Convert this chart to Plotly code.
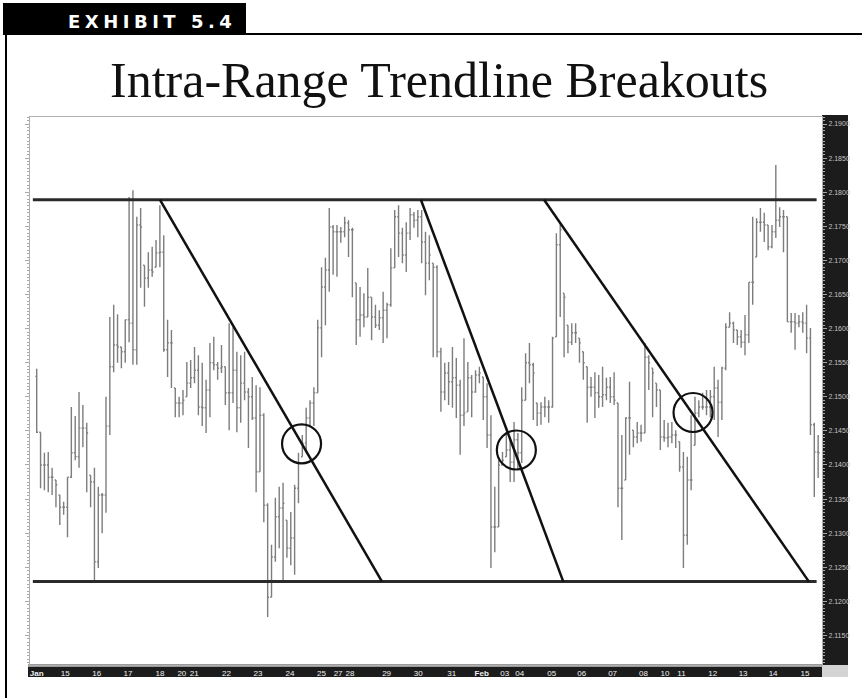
import plotly.graph_objects as go

# ---------------- data ----------------
highs = [2.1541, 2.1448, 2.1418, 2.1419, 2.1396, 2.1378, 2.1356, 2.1346, 2.1382, 2.1485,
         2.1472, 2.1507, 2.1488, 2.1462, 2.1385, 2.1396, 2.1368, 2.1359, 2.1500, 2.1617,
         2.1635, 2.1621, 2.1573, 2.1613, 2.1793, 2.1803, 2.1764, 2.1777, 2.1693, 2.1712,
         2.1720, 2.1730, 2.1781, 2.1737, 2.1613, 2.1598, 2.1513, 2.1500, 2.1510, 2.1551,
         2.1554, 2.1573, 2.1561, 2.1550, 2.1525, 2.1579, 2.1588, 2.1551, 2.1576, 2.1544,
         2.1608, 2.1602, 2.1566, 2.1561, 2.1566, 2.1513, 2.1529, 2.1517, 2.1514, 2.1476,
         2.1344, 2.1283, 2.1352, 2.1368, 2.1374, 2.1319, 2.1331, 2.1371, 2.1418, 2.1444,
         2.1484, 2.1495, 2.1514, 2.1613, 2.1690, 2.1704, 2.1777, 2.1752, 2.1752, 2.1749,
         2.1764, 2.1759, 2.1748, 2.1667, 2.1661, 2.1652, 2.1689, 2.1646, 2.1635, 2.1627,
         2.1654, 2.1638, 2.1718, 2.1774, 2.1781, 2.1748, 2.1756, 2.1777, 2.1771, 2.1774,
         2.1774, 2.1742, 2.1737, 2.1696, 2.1693, 2.1572, 2.1550, 2.1551, 2.1573, 2.1557,
         2.1525, 2.1586, 2.1551, 2.1532, 2.1539, 2.1544, 2.1529, 2.1520, 2.1473, 2.1368,
         2.1407, 2.1419, 2.1447, 2.1441, 2.1463, 2.1447, 2.1514, 2.1564, 2.1579, 2.1550,
         2.1491, 2.1492, 2.1500, 2.1495, 2.1588, 2.1740, 2.1755, 2.1652, 2.1605, 2.1608,
         2.1608, 2.1586, 2.1566, 2.1544, 2.1529, 2.1536, 2.1532, 2.1544, 2.1528, 2.1529,
         2.1536, 2.1491, 2.1444, 2.1470, 2.1522, 2.1451, 2.1463, 2.1459, 2.1579, 2.1561,
         2.1542, 2.1520, 2.1510, 2.1466, 2.1462, 2.1463, 2.1451, 2.1434, 2.1419, 2.1412,
         2.1473, 2.1500, 2.1495, 2.1506, 2.1510, 2.1510, 2.1544, 2.1525, 2.1544, 2.1608,
         2.1624, 2.1610, 2.1598, 2.1598, 2.1620, 2.1668, 2.1764, 2.1762, 2.1777, 2.1770,
         2.1752, 2.1752, 2.1840, 2.1778, 2.1774, 2.1764, 2.1623, 2.1623, 2.1620, 2.1624,
         2.1635, 2.1601, 2.1462, 2.1444]

lows = [2.1447, 2.1366, 2.1363, 2.1360, 2.1356, 2.1338, 2.1312, 2.1327, 2.1294, 2.1381,
        2.1407, 2.1396, 2.1426, 2.1360, 2.1338, 2.1228, 2.1249, 2.1300, 2.1330, 2.1444,
        2.1536, 2.1550, 2.1542, 2.1550, 2.1580, 2.1547, 2.1547, 2.1660, 2.1632, 2.1660,
        2.1676, 2.1690, 2.1690, 2.1566, 2.1529, 2.1513, 2.1470, 2.1470, 2.1473, 2.1500,
        2.1513, 2.1520, 2.1473, 2.1457, 2.1447, 2.1470, 2.1539, 2.1525, 2.1535, 2.1488,
        2.1451, 2.1491, 2.1448, 2.1462, 2.1495, 2.1425, 2.1466, 2.1360, 2.1390, 2.1316,
        2.1177, 2.1206, 2.1258, 2.1278, 2.1228, 2.1264, 2.1253, 2.1239, 2.1344, 2.1412,
        2.1418, 2.1457, 2.1457, 2.1506, 2.1558, 2.1605, 2.1654, 2.1679, 2.1676, 2.1726,
        2.1734, 2.1705, 2.1646, 2.1576, 2.1588, 2.1602, 2.1617, 2.1583, 2.1601, 2.1598,
        2.1579, 2.1586, 2.1632, 2.1689, 2.1705, 2.1696, 2.1683, 2.1730, 2.1748, 2.1734,
        2.1696, 2.1649, 2.1671, 2.1558, 2.1558, 2.1478, 2.1495, 2.1488, 2.1484, 2.1469,
        2.1415, 2.1457, 2.1478, 2.1470, 2.1506, 2.1520, 2.1466, 2.1425, 2.1249, 2.1272,
        2.1309, 2.1400, 2.1412, 2.1375, 2.1375, 2.1393, 2.1403, 2.1495, 2.1520, 2.1466,
        2.1457, 2.1459, 2.1470, 2.1462, 2.1484, 2.1588, 2.1617, 2.1558, 2.1564, 2.1576,
        2.1579, 2.1550, 2.1525, 2.1462, 2.1500, 2.1469, 2.1484, 2.1485, 2.1495, 2.1491,
        2.1488, 2.1338, 2.1290, 2.1378, 2.1415, 2.1426, 2.1432, 2.1434, 2.1447, 2.1510,
        2.1470, 2.1485, 2.1422, 2.1434, 2.1426, 2.1432, 2.1425, 2.1390, 2.1249, 2.1283,
        2.1363, 2.1429, 2.1470, 2.1481, 2.1473, 2.1470, 2.1466, 2.1441, 2.1466, 2.1539,
        2.1602, 2.1579, 2.1576, 2.1572, 2.1561, 2.1579, 2.1635, 2.1705, 2.1742, 2.1727,
        2.1715, 2.1718, 2.1733, 2.1749, 2.1712, 2.1610, 2.1594, 2.1569, 2.1602, 2.1594,
        2.1564, 2.1444, 2.1353, 2.1381]

closes = [2.1448, 2.1400, 2.1400, 2.1382, 2.1382, 2.1371, 2.1338, 2.1338, 2.1382, 2.1418,
          2.1412, 2.1454, 2.1454, 2.1447, 2.1375, 2.1258, 2.1356, 2.1356, 2.1457, 2.1544,
          2.1576, 2.1573, 2.1566, 2.1613, 2.1608, 2.1569, 2.1752, 2.1749, 2.1674, 2.1686,
          2.1683, 2.1711, 2.1712, 2.1569, 2.1579, 2.1579, 2.1491, 2.1491, 2.1495, 2.1520,
          2.1528, 2.1539, 2.1485, 2.1484, 2.1510, 2.1550, 2.1547, 2.1542, 2.1544, 2.1506,
          2.1506, 2.1539, 2.1484, 2.1520, 2.1507, 2.1500, 2.1469, 2.1390, 2.1473, 2.1341,
          2.1206, 2.1265, 2.1324, 2.1337, 2.1344, 2.1278, 2.1293, 2.1366, 2.1403, 2.1432,
          2.1469, 2.1491, 2.1506, 2.1601, 2.1661, 2.1686, 2.1749, 2.1742, 2.1742, 2.1742,
          2.1755, 2.1745, 2.1745, 2.1613, 2.1620, 2.1617, 2.1646, 2.1617, 2.1605, 2.1616,
          2.1627, 2.1635, 2.1689, 2.1764, 2.1740, 2.1708, 2.1740, 2.1767, 2.1759, 2.1764,
          2.1727, 2.1696, 2.1708, 2.1690, 2.1566, 2.1507, 2.1535, 2.1522, 2.1528, 2.1517,
          2.1473, 2.1476, 2.1528, 2.1507, 2.1532, 2.1535, 2.1500, 2.1444, 2.1309, 2.1309,
          2.1400, 2.1407, 2.1422, 2.1404, 2.1437, 2.1418, 2.1495, 2.1550, 2.1547, 2.1535,
          2.1476, 2.1485, 2.1485, 2.1485, 2.1586, 2.1723, 2.1745, 2.1646, 2.1580, 2.1594,
          2.1594, 2.1579, 2.1550, 2.1514, 2.1514, 2.1506, 2.1500, 2.1503, 2.1514, 2.1500,
          2.1495, 2.1366, 2.1366, 2.1469, 2.1469, 2.1441, 2.1447, 2.1447, 2.1558, 2.1550,
          2.1535, 2.1510, 2.1441, 2.1440, 2.1441, 2.1444, 2.1444, 2.1397, 2.1297, 2.1378,
          2.1378, 2.1476, 2.1485, 2.1485, 2.1485, 2.1500, 2.1513, 2.1492, 2.1542, 2.1602,
          2.1608, 2.1598, 2.1588, 2.1580, 2.1591, 2.1668, 2.1668, 2.1756, 2.1756, 2.1752,
          2.1720, 2.1742, 2.1759, 2.1764, 2.1764, 2.1610, 2.1610, 2.1608, 2.1610, 2.1608,
          2.1586, 2.1459, 2.1419, 2.1418]

opens = [2.1530, 2.1448, 2.1400, 2.1400, 2.1382, 2.1378, 2.1356, 2.1338, 2.1338, 2.1382,
         2.1418, 2.1412, 2.1454, 2.1454, 2.1385, 2.1375, 2.1258, 2.1356, 2.1356, 2.1457,
         2.1544, 2.1576, 2.1573, 2.1566, 2.1613, 2.1608, 2.1569, 2.1752, 2.1693, 2.1674,
         2.1686, 2.1690, 2.1711, 2.1712, 2.1569, 2.1579, 2.1513, 2.1491, 2.1491, 2.1500,
         2.1520, 2.1528, 2.1539, 2.1485, 2.1484, 2.1510, 2.1550, 2.1547, 2.1542, 2.1544,
         2.1506, 2.1506, 2.1539, 2.1484, 2.1520, 2.1507, 2.1500, 2.1469, 2.1390, 2.1473,
         2.1341, 2.1206, 2.1265, 2.1324, 2.1337, 2.1319, 2.1278, 2.1293, 2.1366, 2.1412,
         2.1432, 2.1469, 2.1491, 2.1506, 2.1601, 2.1661, 2.1686, 2.1749, 2.1742, 2.1742,
         2.1742, 2.1755, 2.1745, 2.1667, 2.1613, 2.1620, 2.1617, 2.1646, 2.1617, 2.1605,
         2.1616, 2.1627, 2.1635, 2.1689, 2.1764, 2.1740, 2.1708, 2.1740, 2.1767, 2.1759,
         2.1764, 2.1727, 2.1696, 2.1696, 2.1690, 2.1566, 2.1507, 2.1535, 2.1522, 2.1528,
         2.1517, 2.1473, 2.1478, 2.1528, 2.1507, 2.1532, 2.1529, 2.1500, 2.1444, 2.1309,
         2.1309, 2.1400, 2.1412, 2.1422, 2.1404, 2.1437, 2.1418, 2.1495, 2.1550, 2.1547,
         2.1491, 2.1476, 2.1485, 2.1485, 2.1485, 2.1588, 2.1723, 2.1652, 2.1605, 2.1580,
         2.1594, 2.1586, 2.1566, 2.1544, 2.1514, 2.1514, 2.1506, 2.1500, 2.1503, 2.1514,
         2.1500, 2.1491, 2.1366, 2.1378, 2.1469, 2.1451, 2.1441, 2.1447, 2.1447, 2.1558,
         2.1542, 2.1520, 2.1510, 2.1441, 2.1440, 2.1441, 2.1444, 2.1434, 2.1397, 2.1297,
         2.1378, 2.1429, 2.1476, 2.1485, 2.1485, 2.1485, 2.1500, 2.1513, 2.1492, 2.1542,
         2.1602, 2.1608, 2.1598, 2.1588, 2.1580, 2.1591, 2.1668, 2.1705, 2.1756, 2.1756,
         2.1752, 2.1720, 2.1742, 2.1759, 2.1764, 2.1764, 2.1610, 2.1610, 2.1608, 2.1610,
         2.1608, 2.1586, 2.1459, 2.1419]

bar_index = list(range(len(closes)))   # hourly bars, in sequence

# date labels on the time axis (bar position, label)
date_tick_pos = [0, 7.4, 15.6, 23.7, 32.0, 37.7, 40.9, 49.3, 57.5, 65.8, 74.0, 78.3, 81.4,
                 90.9, 99.1, 107.8, 115.6, 121.6, 125.5, 133.8, 141.6, 149.6, 157.6, 163.2,
                 167.5, 175.6, 183.5, 191.3, 199.6]
date_tick_labels = ["<b>Jan</b>", "15", "16", "17", "18", "20", "21", "22", "23", "24", "25",
                    "27", "28", "29", "30", "31", "<b>Feb</b>", "03", "04", "05", "06", "07",
                    "08", "10", "11", "12", "13", "14", "15"]

# range boundaries
resistance_level = 2.1789
support_level = 2.1229
range_span = [-1.0, 202.6]

# downward trendlines: start bar (at resistance) and end bar (at support)
trend_start_bar = [32.0, 99.8, 131.8]
trend_end_bar = [89.7, 136.8, 200.6]

# breakout points (circled)
breakout_bar = [68.8, 124.6, 170.5]
breakout_price = [2.1431, 2.1422, 2.1477]

# ---------------- layout helpers (pixel -> paper) ----------------
W, H = 867, 698
ML, MR, MT, MB = 30, 45, 117, 33
PW, PH = W - ML - MR, H - MT - MB


def px(x):
    return (x - ML) / PW


def py(y):
    return (H - MB - y) / PH


fig = go.Figure()

fig.add_trace(go.Ohlc(
    x=bar_index, open=opens, high=highs, low=lows, close=closes,
    increasing=dict(line=dict(color="#7d7d7d", width=1.4)),
    decreasing=dict(line=dict(color="#7d7d7d", width=1.4)),
    tickwidth=0.35, hoverinfo="skip", showlegend=False,
))

for lvl in (resistance_level, support_level):
    fig.add_trace(go.Scatter(
        x=range_span, y=[lvl, lvl], mode="lines",
        line=dict(color="#2a2a2a", width=3), hoverinfo="skip", showlegend=False))

for xs, xe in zip(trend_start_bar, trend_end_bar):
    fig.add_trace(go.Scatter(
        x=[xs, xe], y=[resistance_level, support_level], mode="lines",
        line=dict(color="#111111", width=2.5), hoverinfo="skip", showlegend=False))

fig.add_trace(go.Scatter(
    x=breakout_bar, y=breakout_price, mode="markers",
    marker=dict(symbol="circle-open", size=39, color="#111111",
                line=dict(color="#111111", width=2.2)),
    hoverinfo="skip", showlegend=False))

shapes = [
    # dark price-scale strip on the right
    dict(type="rect", xref="paper", yref="paper", x0=px(822), x1=px(848), y0=py(665), y1=py(115),
         fillcolor="#1c1c1c", line=dict(width=0), layer="below"),
    # dark date band at the bottom
    dict(type="rect", xref="paper", yref="paper", x0=px(28), x1=px(822), y0=py(677), y1=py(667),
         fillcolor="#1c1c1c", line=dict(width=0), layer="below"),
    dict(type="rect", xref="paper", yref="paper", x0=px(28), x1=px(822), y0=py(667), y1=py(664),
         fillcolor="#9a9a9a", line=dict(width=0), layer="below"),
    # corner box
    dict(type="rect", xref="paper", yref="paper", x0=px(822), x1=px(848), y0=py(677), y1=py(665),
         fillcolor="#d4d4d4", line=dict(width=0), layer="below"),
    # exhibit tab
    dict(type="rect", xref="paper", yref="paper", x0=px(3), x1=px(246), y0=py(35), y1=py(3),
         fillcolor="#000000", line=dict(width=0)),
    # frame lines
    dict(type="line", xref="paper", yref="paper", x0=px(246), x1=px(862), y0=py(34), y1=py(34),
         line=dict(color="#000000", width=2)),
    dict(type="line", xref="paper", yref="paper", x0=px(6), x1=px(6), y0=py(34), y1=py(698),
         line=dict(color="#000000", width=2)),
]

annotations = [
    dict(text='<span style="letter-spacing:4.5px">EXHIBIT 5.4</span>', xref="paper", yref="paper",
         x=px(152), y=py(21.5), xanchor="center", yanchor="middle", showarrow=False,
         font=dict(family="DejaVu Sans", size=18, color="#ffffff", weight="bold")),
    dict(text="Intra-Range Trendline Breakouts", xref="paper", yref="paper",
         x=px(439), y=py(80), xanchor="center", yanchor="middle", showarrow=False,
         font=dict(family="Liberation Serif", size=50, color="#111111")),
]

fig.update_layout(
    width=W, height=H,
    margin=dict(l=ML, r=MR, t=MT, b=MB, pad=0),
    paper_bgcolor="#ffffff", plot_bgcolor="#ffffff",
    showlegend=False, hovermode=False,
    shapes=shapes, annotations=annotations,
    xaxis=dict(
        range=[-1.74, 204.0], rangeslider=dict(visible=False),
        tickmode="array", tickvals=date_tick_pos, ticktext=date_tick_labels,
        tickfont=dict(family="Liberation Sans", size=8, color="#f0f0f0"),
        ticks="", ticklen=0, showgrid=False, zeroline=False,
        showline=True, linecolor="#b0b0b0", linewidth=1, mirror=True,
    ),
    yaxis=dict(
        side="right", range=[2.11067, 2.19103],
        tick0=2.1, dtick=0.005, tickformat=".4f",
        tickfont=dict(family="Liberation Sans", size=7, color="#c4c4c4"),
        ticks="outside", ticklen=4, tickcolor="#a8a8a8", tickwidth=1,
        minor=dict(ticks="outside", ticklen=2, dtick=0.0005, tickcolor="#a8a8a8"),
        showgrid=False, zeroline=False,
        showline=True, linecolor="#b0b0b0", linewidth=1, mirror="allticks",
    ),
)

fig.write_html(
    "out.html",
    config={"displayModeBar": False, "staticPlot": True},
    post_script="document.body.style.margin='0px';document.body.style.overflow='hidden';",
)
